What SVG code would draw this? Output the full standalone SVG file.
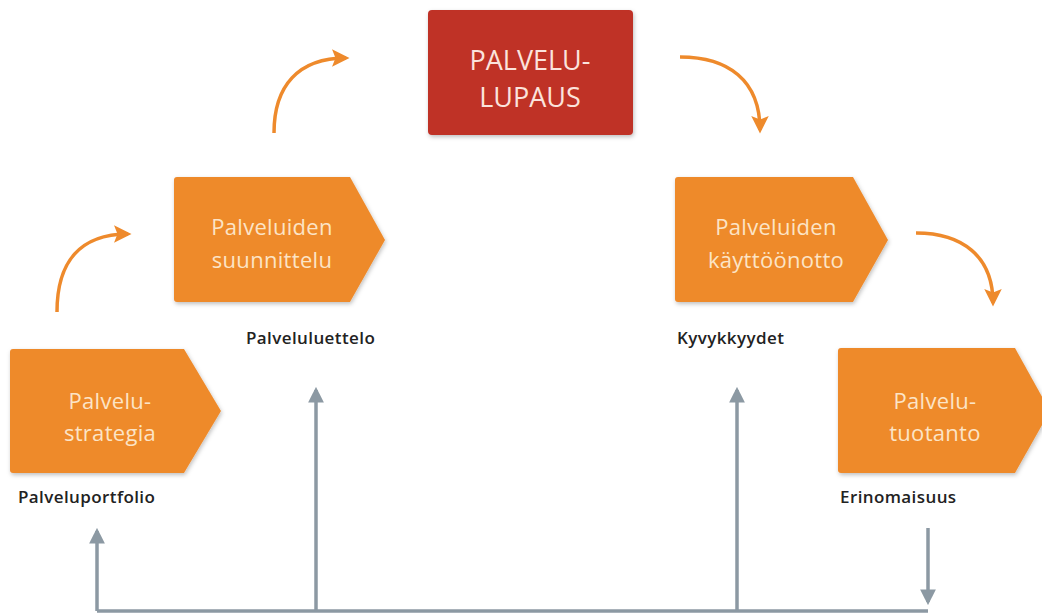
<svg xmlns="http://www.w3.org/2000/svg" width="1042" height="615" viewBox="0 0 1042 615">
<defs>
<style>
.node{fill:#ee8a2c}
.ntext{font-family:"Open Sans","Noto Sans",sans-serif;font-size:22px;font-weight:500;letter-spacing:0.3px;fill:#fce4c6;text-anchor:middle}
.rtext{font-family:"Open Sans","Noto Sans",sans-serif;font-size:27px;font-weight:500;fill:#fbe3dc;text-anchor:middle}
.lbl{font-family:"Open Sans","Noto Sans",sans-serif;font-size:17px;fill:#222;font-weight:600;letter-spacing:0.4px}
.oarr{fill:none;stroke:#ee8a2c;stroke-width:3.5}
.garr{fill:none;stroke:#8c99a3;stroke-width:3.5}
</style>
<marker id="oh" viewBox="0 0 10 10" refX="8" refY="5" markerWidth="5.5" markerHeight="5" orient="auto" markerUnits="strokeWidth">
<path d="M0,0 L10,5 L0,10 L2,5 Z" fill="#ee8a2c"/>
</marker>
<marker id="gh" viewBox="0 0 10 10" refX="8" refY="5" markerWidth="4.5" markerHeight="4.5" orient="auto" markerUnits="strokeWidth">
<path d="M0,0 L10,5 L0,10 Z" fill="#8c99a3"/>
</marker>
<filter id="sh" x="-10%" y="-10%" width="130%" height="130%">
<feDropShadow dx="1" dy="2" stdDeviation="2" flood-color="#000" flood-opacity="0.25"/>
</filter>
</defs>
<rect width="1042" height="615" fill="#ffffff"/>

<g id="connectors">
<path class="oarr" marker-end="url(#oh)" d="M57,312 C57,262 80,234 128,234"/>
<path class="oarr" marker-end="url(#oh)" d="M274,133 C274,86 298,58 346,58"/>
<path class="oarr" marker-end="url(#oh)" d="M680,57 C728,57 760,80 760,130"/>
<path class="oarr" marker-end="url(#oh)" d="M916,233 C962,233 993,256 993,303"/>
<path class="garr" d="M97,611 L928,611"/>
<path class="garr" marker-end="url(#gh)" d="M97,611 L97,531"/>
<path class="garr" marker-end="url(#gh)" d="M316,611 L316,390"/>
<path class="garr" marker-end="url(#gh)" d="M737,611 L737,390"/>
<path class="garr" marker-end="url(#gh)" d="M928,528 L928,602"/>
</g>

<g id="node-strategia">
<path class="node" filter="url(#sh)" d="M13,349 L184,349 L221,411 L184,473 L13,473 Q10,473 10,470 L10,352 Q10,349 13,349 Z"/>
<text class="ntext" x="110" y="409">Palvelu-</text>
<text class="ntext" x="110" y="441">strategia</text>
<text class="lbl" x="18" y="503">Palveluportfolio</text>
</g>

<g id="node-suunnittelu">
<path class="node" filter="url(#sh)" d="M177,177 L350,177 L385,240 L350,302 L177,302 Q174,302 174,299 L174,180 Q174,177 177,177 Z"/>
<text class="ntext" x="272" y="235">Palveluiden</text>
<text class="ntext" x="272" y="268">suunnittelu</text>
<text class="lbl" x="246" y="344">Palveluluettelo</text>
</g>

<g id="node-lupaus">
<rect x="428" y="10" width="205" height="125" rx="4" fill="#bf3027" filter="url(#sh)"/>
<text class="rtext" x="530" y="70">PALVELU-</text>
<text class="rtext" x="530" y="107">LUPAUS</text>
</g>

<g id="node-kayttoonotto">
<path class="node" filter="url(#sh)" d="M678,177 L853,177 L888,240 L853,302 L678,302 Q675,302 675,299 L675,180 Q675,177 678,177 Z"/>
<text class="ntext" x="776" y="235">Palveluiden</text>
<text class="ntext" x="776" y="268">käyttöönotto</text>
<text class="lbl" x="677" y="344">Kyvykkyydet</text>
</g>

<g id="node-tuotanto">
<path class="node" filter="url(#sh)" d="M841,348 L1015,348 L1050,411 L1015,473 L841,473 Q838,473 838,470 L838,351 Q838,348 841,348 Z"/>
<text class="ntext" x="935" y="409">Palvelu-</text>
<text class="ntext" x="935" y="441">tuotanto</text>
<text class="lbl" x="840" y="503">Erinomaisuus</text>
</g>
</svg>
